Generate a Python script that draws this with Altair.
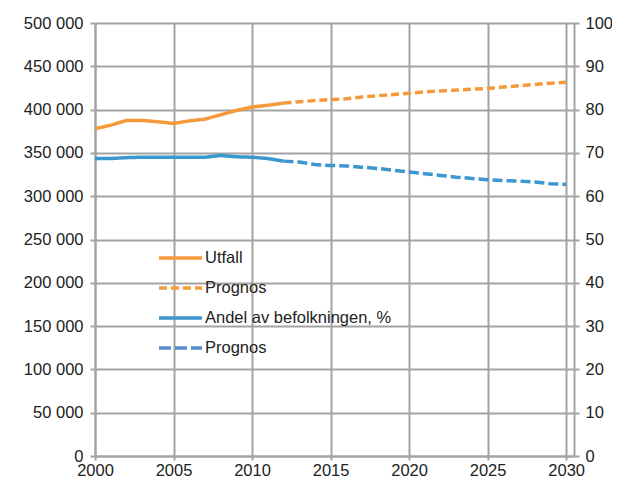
import altair as alt
import pandas as pd

years_hist = list(range(2000, 2013))
befolk_hist = [378000, 382000, 387500, 387500, 386000, 384000, 387000, 389000,
               394000, 399000, 403000, 405000, 407500]
andel_hist = [68.7, 68.7, 68.9, 69.0, 69.0, 69.0, 69.0, 69.0, 69.4, 69.1, 69.0, 68.7, 68.1]

years_prog = list(range(2012, 2031))
befolk_prog = [407500, 409000, 410500, 411500, 412500, 414500, 416000, 417500, 419000,
               420500, 421500, 422500, 423500, 424500, 426000, 427500, 429000, 430500, 431500]
andel_prog = [68.1, 67.9, 67.3, 67.1, 67.0, 66.7, 66.4, 66.0, 65.6, 65.2, 64.8, 64.4,
              64.1, 63.8, 63.6, 63.5, 63.3, 62.9, 62.7]

series = ["Utfall", "Prognos", "Andel av befolkningen, %", "Prognos "]
colors = ["#F59A3B", "#F59A3B", "#3A97D0", "#5A8DCB"]
dashes = [[1, 0], [8, 4], [1, 0], [12, 4]]
blue_line = "#3A97D0"

x_ticks = [2000, 2005, 2010, 2015, 2020, 2025, 2030]
left_ticks = list(range(0, 500001, 50000))
right_ticks = list(range(0, 101, 10))

df_left = pd.concat([
    pd.DataFrame({"year": years_hist, "value": befolk_hist, "serie": series[0]}),
    pd.DataFrame({"year": years_prog, "value": befolk_prog, "serie": series[1]}),
])
df_right_hist = pd.DataFrame({"year": years_hist, "value": andel_hist, "serie": series[2]})
df_right_prog = pd.DataFrame({"year": years_prog, "value": andel_prog, "serie": series[3]})

FONT = "Liberation Sans"
GRID = "#A3A3A3"
TXT = "#222222"

x_enc = alt.X("year:Q", scale=alt.Scale(domain=[2000, 2030.5], nice=False, zero=False),
              axis=alt.Axis(values=x_ticks, format="d", title=None, grid=True,
                            gridColor=GRID, gridWidth=2, domainColor=GRID, domainWidth=2,
                            tickColor=GRID, tickWidth=2, tickSize=4, labelPadding=2,
                            labelBaseline="top", labelFontSize=16.5, labelColor=TXT,
                            labelFont=FONT, labelFlush=False))

color_enc = alt.Color("serie:N",
                      scale=alt.Scale(domain=series, range=colors),
                      legend=alt.Legend(title=None, orient="none", legendX=62, legendY=220,
                                        symbolType="stroke", symbolSize=1849,
                                        symbolStrokeWidth=3.5, labelFontSize=16.5,
                                        labelFont=FONT, labelColor=TXT, labelLimit=400,
                                        clipHeight=30, rowPadding=0, labelOffset=1,
                                        padding=0))
dash_enc = alt.StrokeDash("serie:N", scale=alt.Scale(domain=series, range=dashes),
                          legend=None)

left = alt.Chart(df_left).mark_line(strokeWidth=3.5).encode(
    x=x_enc,
    y=alt.Y("value:Q", scale=alt.Scale(domain=[0, 500000], nice=False),
            axis=alt.Axis(values=left_ticks, title=None, grid=True, gridColor=GRID,
                          gridWidth=2, domainColor=GRID, domainWidth=2, tickColor=GRID,
                          tickWidth=2, tickSize=5, labelPadding=7, labelFontSize=16.5,
                          labelColor=TXT, labelFont=FONT,
                          labelExpr="replace(format(datum.value, ','), ',', ' ')")),
    color=color_enc,
    strokeDash=dash_enc,
)

y_right = alt.Y("value:Q", scale=alt.Scale(domain=[0, 100], nice=False),
                axis=alt.Axis(orient="right", values=right_ticks, title=None, grid=False,
                              domainColor=GRID, domainWidth=2, tickColor=GRID, tickWidth=2,
                              tickSize=5, labelPadding=6, labelFontSize=16.5,
                              labelColor=TXT, labelFont=FONT))

right_hist = alt.Chart(df_right_hist).mark_line(strokeWidth=3.5).encode(
    x=x_enc, y=y_right, color=color_enc, strokeDash=dash_enc,
)
right_prog = alt.Chart(df_right_prog).mark_line(
    strokeWidth=3.5, color=blue_line, strokeDash=[10, 4]
).encode(x=x_enc, y=alt.Y("value:Q"))

right = alt.layer(right_hist, right_prog)

chart = alt.layer(left, right).resolve_scale(y="independent").properties(
    width=479, height=433,
    autosize=alt.AutoSizeParams(type="none"),
    padding={"left": 87, "top": 15, "right": 38, "bottom": 22},
).configure_view(stroke=None)

chart.save("out.html", embed_options={"renderer": "svg", "actions": False})
